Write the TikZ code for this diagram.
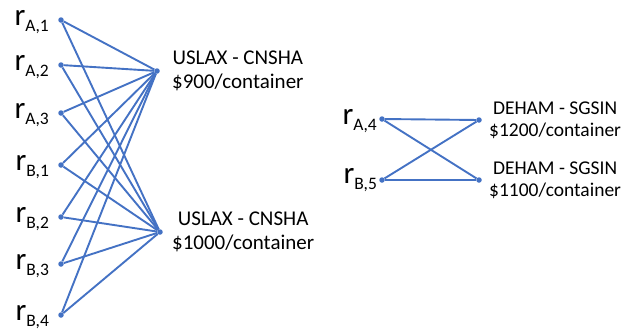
\documentclass[tikz,border=0pt]{standalone}
\usepackage{fontspec}
\setmainfont{Carlito}
\usepackage{tikz}
\usetikzlibrary{positioning}
\definecolor{linkblue}{HTML}{4472C4}
\newcommand{\rname}[2]{{\fontsize{31}{33}\selectfont r}\raisebox{-6.5pt}{\fontsize{17.5}{19}\selectfont #1,#2}}

\begin{document}
\begin{tikzpicture}[x=1pt, y=-1pt,
    dot/.style={circle, fill=linkblue, inner sep=0pt, minimum size=5.5pt},
    link/.style={draw=linkblue, line width=1.9pt},
    rtext/.style={anchor=base east, inner sep=0pt, yshift=-5pt},
    lane/.style={align=center, inner sep=0pt, font=\fontsize{21}{24}\selectfont},
    lanesm/.style={lane, font=\fontsize{19.5}{21.7}\selectfont}]
\useasboundingbox (0,0) rectangle (635,335);

% requests, first group
\node[dot] (a1) at (61,20) {};
\node[dot] (a2) at (61,65) {};
\node[dot] (a3) at (61,113) {};
\node[dot] (b1) at (61,165) {};
\node[dot] (b2) at (61,217) {};
\node[dot] (b3) at (61,264) {};
\node[dot] (b4) at (61,315) {};

\node[left=9pt of a1, rtext] (a1l) {\rname{A}{1}};
\node[left=9pt of a2, rtext] (a2l) {\rname{A}{2}};
\node[left=9pt of a3, rtext] (a3l) {\rname{A}{3}};
\node[left=9pt of b1, rtext] (b1l) {\rname{B}{1}};
\node[left=9pt of b2, rtext] (b2l) {\rname{B}{2}};
\node[left=9pt of b3, rtext] (b3l) {\rname{B}{3}};
\node[left=9pt of b4, rtext] (b4l) {\rname{B}{4}};

% lanes, first group
\node[dot] (u1) at (157,71) {};
\node[dot] (u2) at (160,232) {};
\node[lane, right=12pt of u1] (u1l) {USLAX - CNSHA\\\$900/container};
\node[lane, right=9pt of u2] (u2l) {USLAX - CNSHA\\\$1000/container};

% requests and lanes, second group
\node[dot] (a4) at (382,119) {};
\node[dot] (b5) at (382,180) {};
\node[left=2pt of a4, rtext] (a4l) {\rname{A}{4}};
\node[left=2pt of b5, rtext, yshift=2pt] (b5l) {\rname{B}{5}};

\node[dot] (d1) at (479,120) {};
\node[dot] (d2) at (479,180) {};
\node[lanesm, right=7pt of d1] (d1l) {DEHAM - SGSIN\\\$1200/container};
\node[lanesm, right=7pt of d2] (d2l) {DEHAM - SGSIN\\\$1100/container};

\draw[link] (a1) -- (u1);
\draw[link] (a1) -- (u2);
\draw[link] (a2) -- (u1);
\draw[link] (a2) -- (u2);
\draw[link] (a3) -- (u1);
\draw[link] (a3) -- (u2);
\draw[link] (b1) -- (u1);
\draw[link] (b1) -- (u2);
\draw[link] (b2) -- (u1);
\draw[link] (b2) -- (u2);
\draw[link] (b3) -- (u1);
\draw[link] (b3) -- (u2);
\draw[link] (b4) -- (u1);
\draw[link] (b4) -- (u2);

\draw[link] (a4) -- (d1);
\draw[link] (a4) -- (d2);
\draw[link] (b5) -- (d1);
\draw[link] (b5) -- (d2);

\end{tikzpicture}
\end{document}
